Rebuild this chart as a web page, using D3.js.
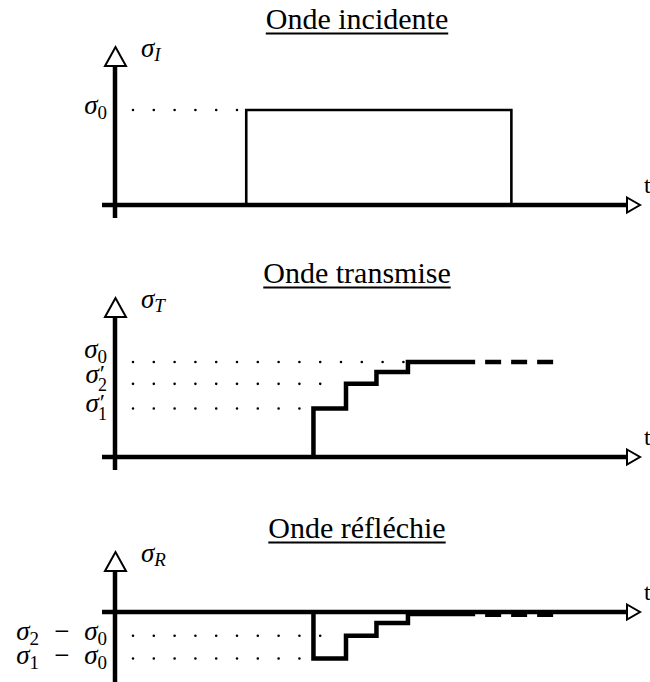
<!doctype html>
<html>
<head>
<meta charset="utf-8">
<title>Ondes incidente, transmise, réfléchie</title>
<script src="https://d3js.org/d3.v7.min.js"></script>
<style>
  body { margin: 0; background: #fff; }
  .title { font: 30px "Liberation Serif", serif; fill: #000; }
  .math { font: italic 27px "Liberation Serif", serif; fill: #000; }
  .roman { font-style: normal; }
  .axis { stroke: #000; stroke-width: 4.5; fill: none; }
  .head { stroke: #000; stroke-width: 2; fill: #fff; stroke-linejoin: miter; }
  .dots { stroke: #000; stroke-width: 2.6; stroke-linecap: round; fill: none; }
</style>
</head>
<body>
<div id="chart"></div>
<script>
// data (t in arbitrary units, sigma relative to sigma0)
const titles = ["Onde incidente", "Onde transmise", "Onde réfléchie"];
const yNames = ["I", "T", "R"];

const incidentPulse = [[2.5, 0], [2.5, 1], [7.55, 1], [7.55, 0]];
const transmittedSteps = [[3.78, 0], [3.78, 0.51], [4.4, 0.77], [4.98, 0.895], [5.58, 1], [6.86, 1]];
const transmittedDash = [[7.05, 1], [8.4, 1]];
const reflectedSteps = [[3.78, 0], [3.78, -0.49], [4.4, -0.25], [4.98, -0.115], [5.58, -0.02], [6.86, -0.02]];
const reflectedDash = [[7.05, -0.03], [8.4, -0.03]];

// dotted guide levels: value, where dots stop, label pieces
const incidentLevels = [
  { v: 1, end: 2.35, label: [["σ"], ["0", "sub"]], dy: 4 }
];
const transmittedLevels = [
  { v: 1, end: 5.5, label: [["σ"], ["0", "sub"]], dy: -4 },
  { v: 0.77, end: 3.92, label: [["σ"], ["′", "sup"], ["2", "subp"]], dy: -1 },
  { v: 0.51, end: 3.52, label: [["σ"], ["′", "sup"], ["1", "subp"]], dy: 3 }
];
const reflectedLevels = [
  { v: -0.25, end: 3.92, label: [["σ"], ["2", "sub"], ["\u2002−\u2002σ", "back"], ["0", "sub"]], dy: 4 },
  { v: -0.49, end: 3.52, label: [["σ"], ["1", "sub"], ["\u2002−\u2002σ", "back"], ["0", "sub"]], dy: 5 }
];

const w = 650, h = 682;
const unit = 95;          // pixels for sigma0
const dotStart = 0.343;

const svg = d3.select("#chart").append("svg")
  .attr("width", w).attr("height", h);

const xScale = d3.scaleLinear().domain([0, 10]).range([115, 640]);

const panels = [
  { axisY: 205, top: 47, bottom: 218, titleY: 29, curve: incidentPulse, dash: null, levels: incidentLevels, thin: true },
  { axisY: 457, top: 298, bottom: 470, titleY: 283, curve: transmittedSteps, dash: transmittedDash, levels: transmittedLevels },
  { axisY: 612, top: 552, bottom: 690, titleY: 538, curve: reflectedSteps, dash: reflectedDash, levels: reflectedLevels }
];

function writeLabel(sel, parts) {
  parts.forEach(function(p) {
    const t = sel.append("tspan").text(p[0]);
    if (p[1] === "sub") {
      t.attr("class", "roman").style("font-size", "19px").attr("dy", 5);
    } else if (p[1] === "sup") {
      t.attr("class", "roman").style("font-size", "24px").attr("dx", 1).attr("dy", -2);
    } else if (p[1] === "subp") {
      t.attr("class", "roman").style("font-size", "18px").attr("dx", -7).attr("dy", 10);
    } else if (p[1] === "back") {
      t.attr("dy", -5);
    }
  });
}

panels.forEach(function(p, i) {
  const yScale = d3.scaleLinear().domain([0, 1]).range([p.axisY, p.axisY - unit]);
  const g = svg.append("g");
  const x0 = xScale(0);

  // title with underline
  const title = g.append("text")
    .attr("class", "title")
    .attr("x", 357)
    .attr("y", p.titleY)
    .style("text-anchor", "middle")
    .text(titles[i]);
  const bb = title.node().getBBox();
  g.append("line")
    .attr("x1", bb.x).attr("x2", bb.x + bb.width)
    .attr("y1", p.titleY + 4.5).attr("y2", p.titleY + 4.5)
    .attr("stroke", "#000").attr("stroke-width", 1.8);

  // axes
  g.append("line").attr("class", "axis")
    .attr("x1", x0).attr("x2", x0)
    .attr("y1", p.top + 19).attr("y2", p.bottom);
  g.append("line").attr("class", "axis")
    .attr("x1", 102).attr("x2", 627)
    .attr("y1", p.axisY).attr("y2", p.axisY);

  // arrow heads
  g.append("path").attr("class", "head")
    .attr("d", "M" + (x0 - 10) + "," + (p.top + 19) + "L" + (x0 + 0.5) + "," + p.top +
               "L" + (x0 + 11) + "," + (p.top + 19) + "Z");
  g.append("path").attr("class", "head")
    .attr("d", "M627," + (p.axisY - 7.5) + "L640," + p.axisY + "L627," + (p.axisY + 7.5) + "Z");

  // axis names
  const yl = g.append("text").attr("class", "math")
    .attr("x", 141).attr("y", p.top + 10);
  yl.append("tspan").text("σ");
  yl.append("tspan").text(yNames[i]).style("font-size", "19px").attr("dy", 4);

  g.append("text").attr("class", "math roman")
    .attr("x", 644).attr("y", p.axisY - 12)
    .style("font-size", "24px")
    .text("t");

  // dotted levels + labels
  p.levels.forEach(function(l) {
    g.append("line").attr("class", "dots")
      .attr("x1", xScale(dotStart)).attr("x2", xScale(l.end))
      .attr("y1", yScale(l.v)).attr("y2", yScale(l.v))
      .attr("stroke-dasharray", "0 20.8");
    const lab = g.append("text").attr("class", "math")
      .attr("x", 107).attr("y", yScale(l.v) + l.dy)
      .style("text-anchor", "end");
    writeLabel(lab, l.label);
  });

  // signal
  const line = d3.line()
    .x(function(d) { return xScale(d[0]); })
    .y(function(d) { return yScale(d[1]); })
    .curve(p.thin ? d3.curveLinear : d3.curveStepAfter);

  g.append("path")
    .attr("d", line(p.curve))
    .attr("fill", "none")
    .attr("stroke", "#000")
    .attr("stroke-width", p.thin ? 2.6 : 4.5)
    .attr("stroke-linejoin", "miter");

  if (p.dash) {
    g.append("path")
      .attr("d", line(p.dash))
      .attr("fill", "none")
      .attr("stroke", "#000")
      .attr("stroke-width", 4.5)
      .attr("stroke-dasharray", "16 10");
  }
});
</script>
</body>
</html>
